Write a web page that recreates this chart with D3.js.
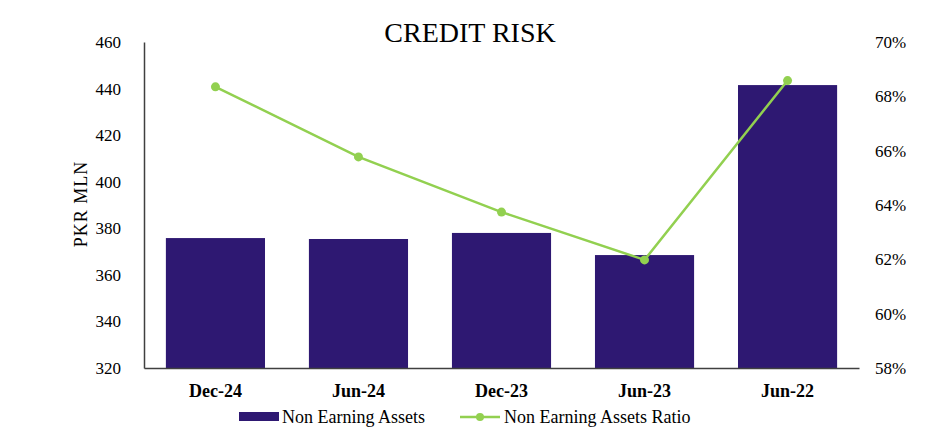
<!DOCTYPE html>
<html><head><meta charset="utf-8">
<script src="https://cdn.jsdelivr.net/npm/d3@7"></script>
<style>body{margin:0;background:#fff}svg{display:block;font-family:"Liberation Serif","Times New Roman",serif}</style>
</head><body><svg id="c" width="942" height="445"></svg>
<script>
const categories = ["Dec-24","Jun-24","Dec-23","Jun-23","Jun-22"];
const assets = [375.8, 375.4, 378.0, 368.5, 441.5];
const ratio = [68.35, 65.77, 63.74, 61.98, 68.58];
const leftTicks = [320,340,360,380,400,420,440,460];
const rightTicks = [58,60,62,64,66,68,70];

const svg = d3.select("#c");
const L = 144, R = 859, T = 42, B = 368;
const x = d3.scaleBand().domain(categories).range([L,R]).paddingInner(0.307).paddingOuter(0.153);
const yL = d3.scaleLinear().domain([320,460]).range([B,T]);
const yR = d3.scaleLinear().domain([58,70]).range([B,T]);
const barColor = "#2E1872", lineColor = "#92D050";

svg.append("text").attr("x",470).attr("y",42).attr("text-anchor","middle")
  .attr("font-size",28).text("CREDIT RISK");

svg.selectAll("rect.bar").data(categories).enter().append("rect")
  .attr("x",d=>x(d)).attr("width",x.bandwidth())
  .attr("y",(d,i)=>yL(assets[i])).attr("height",(d,i)=>B-yL(assets[i]))
  .attr("fill",barColor);

// left axis
const gl = svg.append("g").attr("transform",`translate(${L},0)`)
  .call(d3.axisLeft(yL).tickValues(leftTicks).tickSize(0).tickPadding(23));
gl.select(".domain").attr("stroke","#404040").attr("stroke-width",1.5);
gl.selectAll("text").attr("font-size",17).attr("font-family","Liberation Serif").attr("fill","#000");

// right axis
const gr = svg.append("g").attr("transform",`translate(${R},0)`)
  .call(d3.axisRight(yR).tickValues(rightTicks).tickSize(0).tickPadding(16).tickFormat(d=>d+"%"));
gr.select(".domain").remove();
gr.selectAll("text").attr("font-size",17).attr("font-family","Liberation Serif").attr("fill","#000");

// bottom axis
const gb = svg.append("g").attr("transform",`translate(0,${B})`)
  .call(d3.axisBottom(x).tickSize(0).tickPadding(0));
gb.select(".domain").attr("stroke","#404040").attr("stroke-width",1.5);
gb.selectAll("text").attr("dy",null).attr("y",29).attr("font-size",18).attr("font-weight","bold").attr("font-family","Liberation Serif").attr("fill","#000");

svg.append("text").attr("transform","translate(87,204) rotate(-90)")
  .attr("text-anchor","middle").attr("font-size",18).attr("letter-spacing",1).text("PKR MLN");

const line = d3.line().x((d,i)=>x(categories[i])+x.bandwidth()/2).y(d=>yR(d));
svg.append("path").datum(ratio).attr("d",line).attr("fill","none")
  .attr("stroke",lineColor).attr("stroke-width",2.5);
svg.selectAll("circle.pt").data(ratio).enter().append("circle")
  .attr("cx",(d,i)=>x(categories[i])+x.bandwidth()/2).attr("cy",d=>yR(d)).attr("r",4.5).attr("fill",lineColor);

// legend
const lg = svg.append("g");
lg.append("rect").attr("x",239).attr("y",412).attr("width",40).attr("height",9).attr("fill",barColor);
lg.append("text").attr("x",282).attr("y",423).attr("font-size",18).text("Non Earning Assets");
lg.append("line").attr("x1",460).attr("x2",500).attr("y1",417).attr("y2",417).attr("stroke",lineColor).attr("stroke-width",2.5);
lg.append("circle").attr("cx",480).attr("cy",417).attr("r",4).attr("fill",lineColor);
lg.append("text").attr("x",504).attr("y",423).attr("font-size",18).text("Non Earning Assets Ratio");
</script></body></html>
